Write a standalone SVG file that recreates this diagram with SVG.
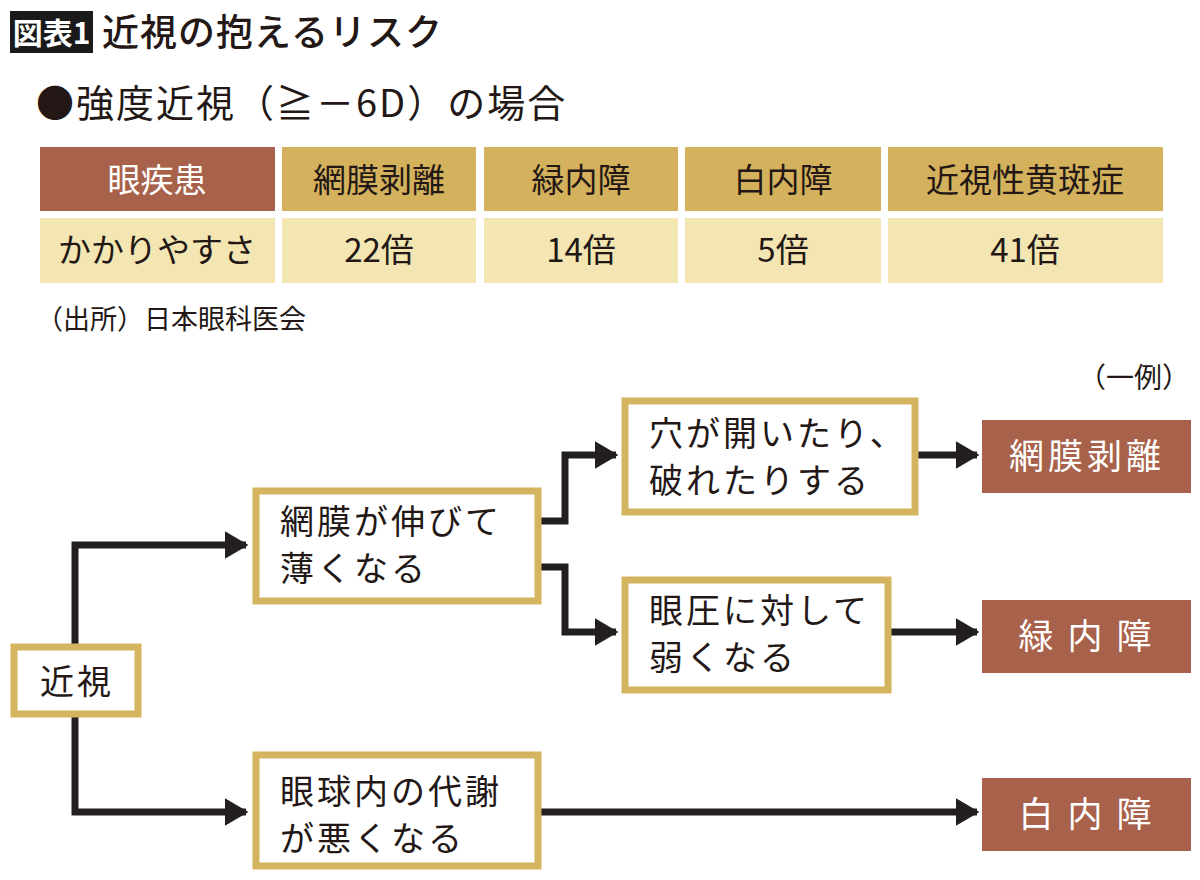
<svg xmlns="http://www.w3.org/2000/svg" width="1200" height="880" viewBox="0 0 1200 880">
<defs>
<style>
text{font-family:"Noto Sans CJK JP","Noto Sans",sans-serif;fill:#231815;}
.hd{font-size:33px;text-anchor:middle;}
.w{fill:#ffffff;}
.box{fill:#ffffff;stroke:#D4B45E;stroke-width:7;}
.dis{fill:#A8614A;}
.nt{font-size:34px;letter-spacing:3px;}
.dt{font-size:35px;fill:#ffffff;text-anchor:middle;}
.con{fill:none;stroke:#231f20;stroke-width:7;stroke-linejoin:miter;}
</style>
<marker id="ah" viewBox="0 0 10 10" refX="9" refY="5" markerWidth="3.4" markerHeight="4" orient="auto" markerUnits="strokeWidth" preserveAspectRatio="none">
<path d="M0,0 L10,5 L0,10 Z" fill="#231f20"/>
</marker>
</defs>
<rect width="1200" height="880" fill="#ffffff"/>

<g id="title">
<rect x="10" y="11" width="83" height="42" fill="#1a1a1a"/>
<text x="51.5" y="44" font-size="30" font-weight="bold" text-anchor="middle" class="w">図表1</text>
<text x="102" y="46" font-size="37" font-weight="500" letter-spacing="1">近視の抱えるリスク</text>
</g>

<g id="subtitle">
<text x="36" y="117" font-size="38" letter-spacing="2">●強度近視（≧－6D）の場合</text>
</g>

<g id="table">
<rect x="40" y="147" width="235" height="64" fill="#A8614A"/>
<rect x="282" y="147" width="194" height="64" fill="#D4B15C"/>
<rect x="484" y="147" width="194" height="64" fill="#D4B15C"/>
<rect x="685" y="147" width="196" height="64" fill="#D4B15C"/>
<rect x="888" y="147" width="275" height="64" fill="#D4B15C"/>
<rect x="40" y="218" width="235" height="65" fill="#F3E6B3"/>
<rect x="282" y="218" width="194" height="65" fill="#F3E6B3"/>
<rect x="484" y="218" width="194" height="65" fill="#F3E6B3"/>
<rect x="685" y="218" width="196" height="65" fill="#F3E6B3"/>
<rect x="888" y="218" width="275" height="65" fill="#F3E6B3"/>
<text x="157" y="192" class="hd w">眼疾患</text>
<text x="379" y="192" class="hd">網膜剥離</text>
<text x="581" y="192" class="hd">緑内障</text>
<text x="783" y="192" class="hd">白内障</text>
<text x="1025" y="192" class="hd">近視性黄斑症</text>
<text x="157" y="262" class="hd">かかりやすさ</text>
<text x="379" y="262" class="hd">22倍</text>
<text x="581" y="262" class="hd">14倍</text>
<text x="783" y="262" class="hd">5倍</text>
<text x="1025" y="262" class="hd">41倍</text>
<text x="36" y="329" font-size="27" fill="#333333">（出所）日本眼科医会</text>
</g>

<text x="1190" y="388" font-size="28" text-anchor="end">（一例）</text>

<g id="connectors">
<path class="con" d="M75,645 V545 H246" marker-end="url(#ah)"/>
<path class="con" d="M75,715 V812 H246" marker-end="url(#ah)"/>
<path class="con" d="M540,521 H565 V455 H616" marker-end="url(#ah)"/>
<path class="con" d="M540,567 H565 V632 H616" marker-end="url(#ah)"/>
<path class="con" d="M917,455 H977" marker-end="url(#ah)"/>
<path class="con" d="M890,632 H977" marker-end="url(#ah)"/>
<path class="con" d="M540,812 H977" marker-end="url(#ah)"/>
</g>

<g id="n-kinshi">
<rect class="box" x="14" y="647" width="124" height="67"/>
<text x="40" y="694" class="nt">近視</text>
</g>
<g id="n-nobite">
<rect class="box" x="256" y="491" width="282" height="110"/>
<text x="280" y="534" class="nt">網膜が伸びて</text>
<text x="280" y="581" class="nt">薄くなる</text>
</g>
<g id="n-ana">
<rect class="box" x="625" y="401" width="290" height="111"/>
<text x="649" y="446" class="nt">穴が開いたり、</text>
<text x="649" y="493" class="nt">破れたりする</text>
</g>
<g id="n-gannatsu">
<rect class="box" x="625" y="580" width="263" height="110"/>
<text x="649" y="623" class="nt">眼圧に対して</text>
<text x="649" y="670" class="nt">弱くなる</text>
</g>
<g id="n-taisha">
<rect class="box" x="256" y="755" width="282" height="111"/>
<text x="280" y="804" class="nt">眼球内の代謝</text>
<text x="280" y="851" class="nt">が悪くなる</text>
</g>
<g id="d-moumaku">
<rect class="dis" x="982" y="420" width="209" height="73"/>
<text x="1087" y="469" class="dt" letter-spacing="4">網膜剥離</text>
</g>
<g id="d-ryokunai">
<rect class="dis" x="982" y="600" width="209" height="73"/>
<text x="1092" y="649" class="dt" letter-spacing="14">緑内障</text>
</g>
<g id="d-hakunai">
<rect class="dis" x="982" y="778" width="209" height="73"/>
<text x="1092" y="827" class="dt" letter-spacing="14">白内障</text>
</g>
</svg>
